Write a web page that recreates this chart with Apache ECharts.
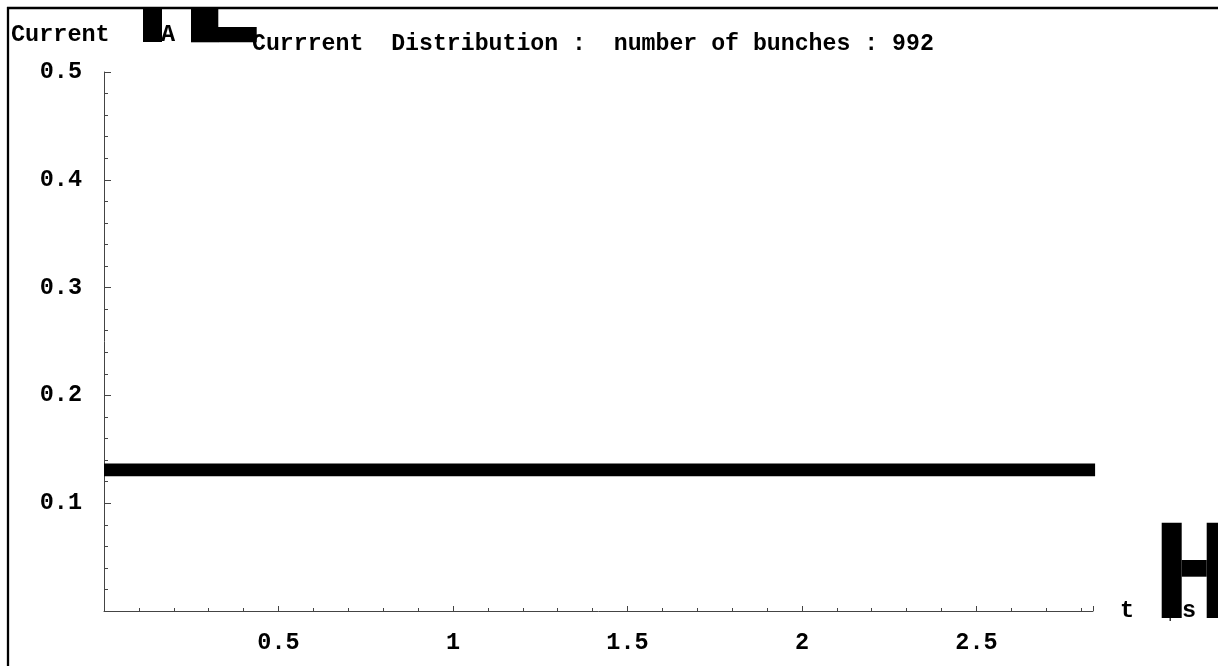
<!DOCTYPE html>
<html>
<head>
<meta charset="utf-8">
<script src="https://cdn.jsdelivr.net/npm/echarts@6/dist/echarts.min.js"></script>
<style>html,body{margin:0;padding:0;background:#fff;}#c{width:1218px;height:666px;}</style>
</head>
<body>
<div id="c"></div>
<script>
// Data
var titleText = 'Currrent  Distribution :  number of bunches : 992';
var yName = 'Current';
var xName = 't';
var times = [0, 2.84];          // t in μs
var currents = [0.131, 0.131];  // current in A
var xTicks = [0.5, 1, 1.5, 2, 2.5];
var yTicks = [0.1, 0.2, 0.3, 0.4, 0.5];

var FONT = 'Liberation Mono';
var FS = 23.5;
var chart = echarts.init(document.getElementById('c'), null, {renderer: 'canvas'});
var lineData = times.map(function (t, i) { return [t, currents[i]]; });

chart.setOption({
  animation: false,
  backgroundColor: '#fff',
  title: {
    text: titleText,
    left: 252, top: 33, padding: 0,
    textStyle: {fontFamily: FONT, fontWeight: 'bold', fontSize: 23.2, color: '#000'}
  },
  grid: {left: 104, right: 125, top: 72, bottom: 55, containLabel: false},
  xAxis: {
    type: 'value', min: 0, max: 2.834, interval: 0.5,
    name: xName, nameLocation: 'end', nameGap: 27,
    nameTextStyle: {fontFamily: FONT, fontWeight: 'bold', fontSize: FS, color: '#000', verticalAlign: 'middle', align: 'left'},
    axisLine: {show: true, onZero: false, lineStyle: {color: '#444', width: 1}},
    axisTick: {show: true, inside: true, length: 5, lineStyle: {color: '#444'}},
    minorTick: {show: true, splitNumber: 5, length: 3, lineStyle: {color: '#444'}},
    splitLine: {show: false},
    axisLabel: {
      margin: 20, showMinLabel: false, showMaxLabel: false,
      fontFamily: FONT, fontWeight: 'bold', fontSize: FS, color: '#000',
      formatter: function (v) { return xTicks.indexOf(+v.toFixed(2)) >= 0 ? String(+v.toFixed(2)) : ''; }
    }
  },
  yAxis: {
    type: 'value', min: 0, max: 0.5, interval: 0.1,
    name: yName, nameLocation: 'end', nameGap: 37,
    nameTextStyle: {fontFamily: FONT, fontWeight: 'bold', fontSize: FS, color: '#000', align: 'left', verticalAlign: 'middle', padding: [0, 0, 0, -93]},
    axisLine: {show: true, onZero: false, lineStyle: {color: '#444', width: 1}},
    axisTick: {show: true, inside: true, length: 7, lineStyle: {color: '#444'}},
    minorTick: {show: true, splitNumber: 5, length: 4, lineStyle: {color: '#444'}},
    splitLine: {show: false},
    axisLabel: {
      margin: 22, showMinLabel: false,
      fontFamily: FONT, fontWeight: 'bold', fontSize: FS, color: '#000',
      formatter: function (v) { return yTicks.indexOf(+v.toFixed(2)) >= 0 ? String(+v.toFixed(2)) : ''; }
    }
  },
  series: [{
    type: 'line', data: lineData, showSymbol: false, clip: false,
    lineStyle: {color: '#000', width: 12.7, cap: 'butt'}
  }],
  graphic: [
    {type: 'line', shape: {x1: 7, y1: 8, x2: 1218, y2: 8}, style: {stroke: '#000', lineWidth: 2.3}},
    {type: 'line', shape: {x1: 8, y1: 7, x2: 8, y2: 666}, style: {stroke: '#000', lineWidth: 2.3}},
    {type: 'text', x: 161, y: 35, style: {text: 'A', fontFamily: FONT, fontWeight: 'bold', fontSize: FS, fill: '#000', verticalAlign: 'middle'}},
    {type: 'rect', shape: {x: 143, y: 9, width: 19, height: 33}, style: {fill: '#000'}},
    {type: 'rect', shape: {x: 191, y: 9, width: 27.3, height: 33.3}, style: {fill: '#000'}},
    {type: 'rect', shape: {x: 218, y: 27, width: 38.7, height: 15.3}, style: {fill: '#000'}},
    {type: 'rect', shape: {x: 1161.7, y: 522.7, width: 20, height: 95.3}, style: {fill: '#000'}},
    {type: 'rect', shape: {x: 1181.7, y: 560, width: 25, height: 16.7}, style: {fill: '#000'}},
    {type: 'rect', shape: {x: 1206.7, y: 522.7, width: 12, height: 95.3}, style: {fill: '#000'}},
    {type: 'rect', shape: {x: 1169.5, y: 618, width: 1.5, height: 3}, style: {fill: '#333'}},
    {type: 'text', x: 1182, y: 611, style: {text: 's', fontFamily: FONT, fontWeight: 'bold', fontSize: FS, fill: '#000', verticalAlign: 'middle'}}
  ]
});
</script>
</body>
</html>
